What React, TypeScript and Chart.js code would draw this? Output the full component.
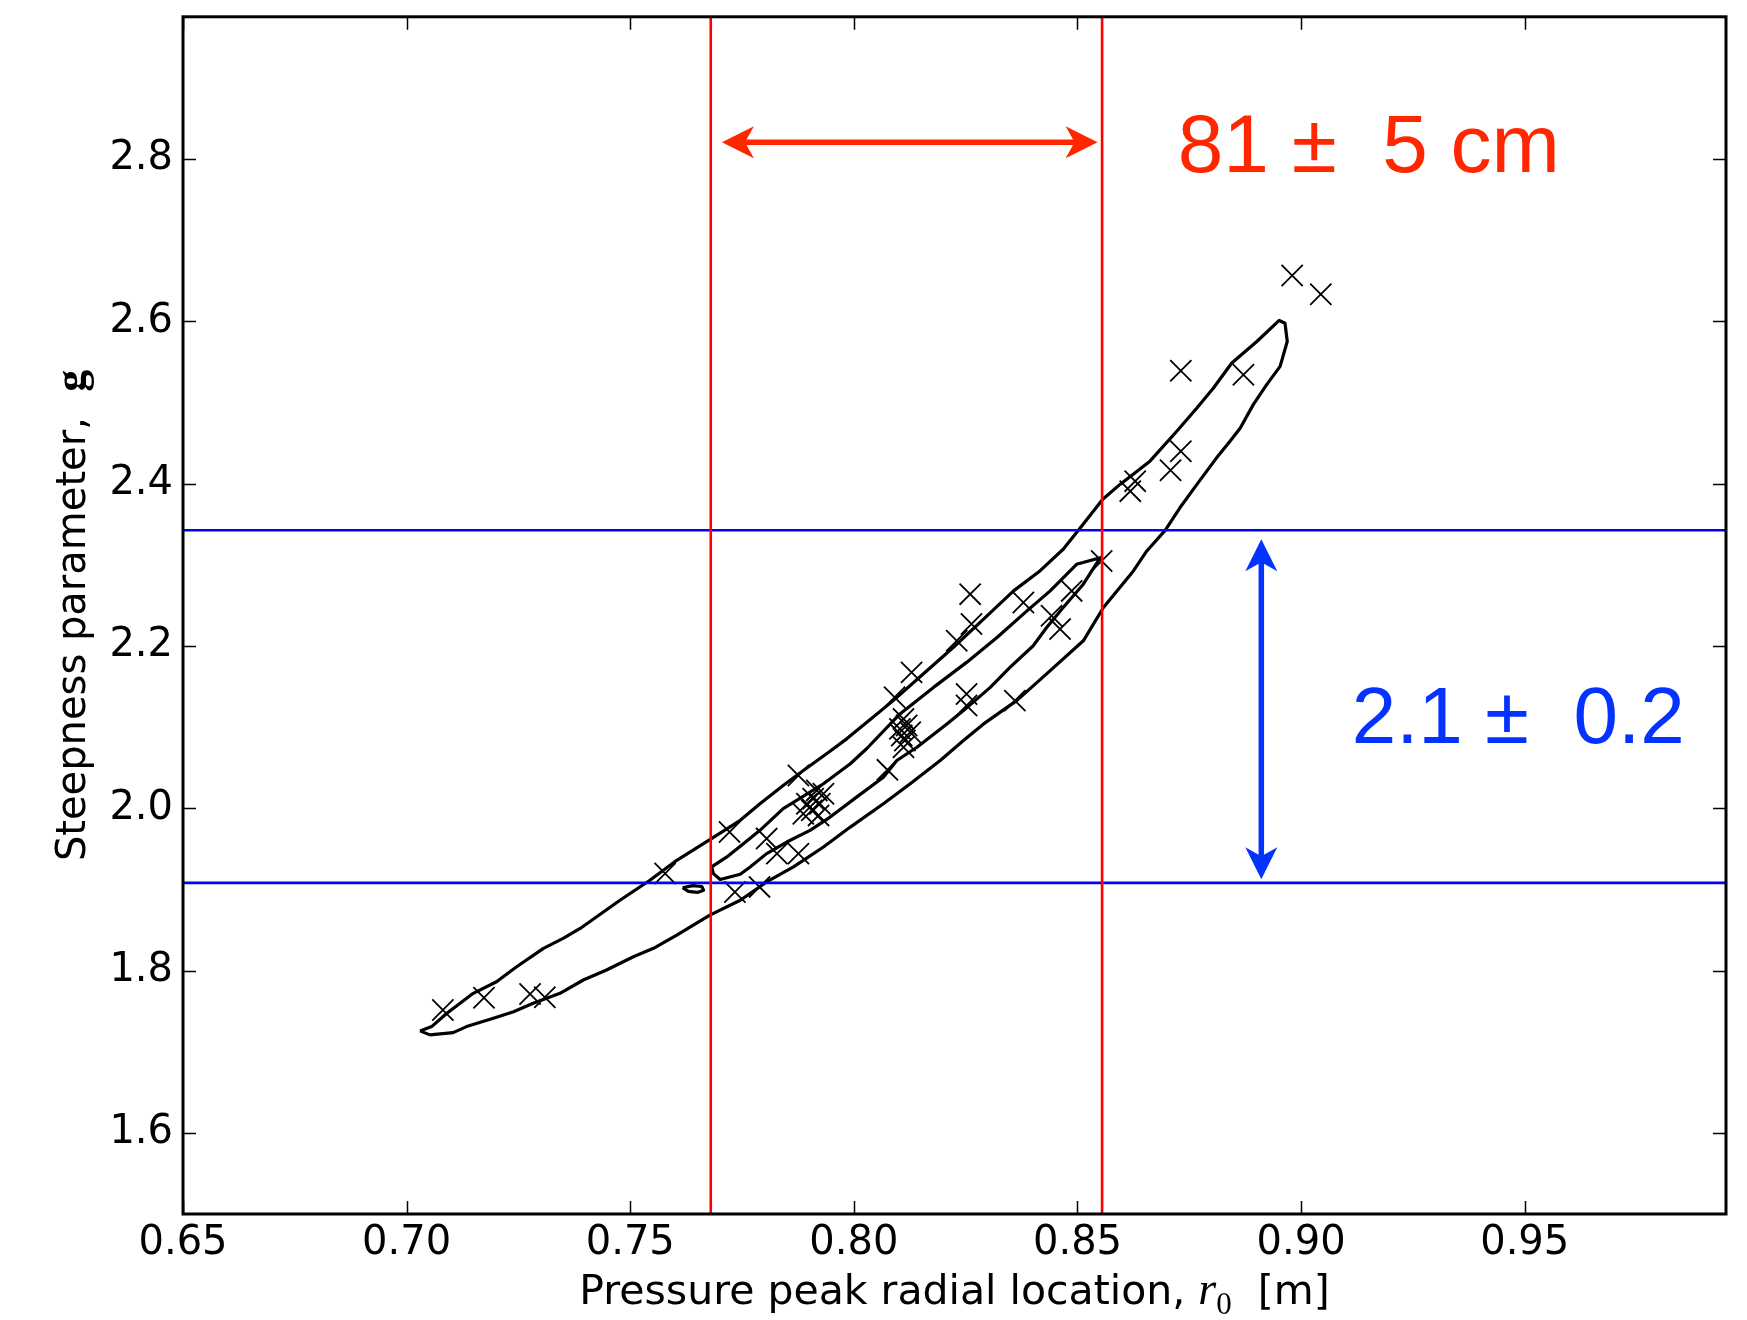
import { useEffect, useRef } from "react";
import { Chart, registerables } from "chart.js";

Chart.register(...registerables);

const W = 1747;
const H = 1320;

// Axis limits and tick values
const rRange = [0.65, 0.995];
const gRange = [1.5, 2.975];
const rTicks = [0.65, 0.7, 0.75, 0.8, 0.85, 0.9, 0.95];
const gTicks = [1.6, 1.8, 2.0, 2.2, 2.4, 2.6, 2.8];

// Individual fit results (r0 [m], g)
const samples: [number, number][] = [
  [0.7081, 1.7514], [0.7173, 1.7665], [0.7276, 1.7711], [0.7309, 1.767],
  [0.7578, 1.9194], [0.7722, 1.9706], [0.7734, 1.8968], [0.7789, 1.903],
  [0.7805, 1.9625], [0.7828, 1.944], [0.7876, 1.944], [0.7876, 2.0403],
  [0.7917, 2.0219], [0.7932, 2.0178], [0.7909, 2.0117], [0.7895, 2.0055],
  [0.7924, 2.0055], [0.7906, 1.9973], [0.7887, 1.9932], [0.7921, 1.9911],
  [0.8075, 2.0472],
  [0.8091, 2.1366], [0.8111, 2.11], [0.8103, 2.0977], [0.8118, 2.1018],
  [0.8107, 2.0894], [0.8114, 2.0833], [0.8126, 2.0935], [0.8111, 2.0751],
  [0.8129, 2.1673],
  [0.826, 2.2637], [0.8263, 2.2268], [0.823, 2.2062],
  [0.8252, 2.1407], [0.8252, 2.1264], [0.836, 2.1325],
  [0.8379, 2.2533], [0.8442, 2.237], [0.8461, 2.2206], [0.8487, 2.2677], [0.8554, 2.3046],
  [0.8618, 2.3906], [0.8629, 2.4029], [0.8708, 2.4164], [0.8731, 2.4398],
  [0.8731, 2.539], [0.8871, 2.5341],
  [0.898, 2.6562], [0.9044, 2.6332],
];

// Confidence contours (closed paths)
const outerContour: [number, number][] = [
  [0.703, 1.7256], [0.7056, 1.7309], [0.709, 1.7473], [0.7149, 1.7719], [0.7201, 1.7862],
  [0.7246, 1.8046], [0.7306, 1.8273], [0.735, 1.8395], [0.7388, 1.8518], [0.7414, 1.862],
  [0.7477, 1.8866], [0.7544, 1.9112], [0.7604, 1.9358], [0.7678, 1.9612], [0.7746, 1.985],
  [0.779, 2.0055], [0.7842, 2.028], [0.7887, 2.0464], [0.7939, 2.067], [0.7984, 2.0854],
  [0.8029, 2.1058], [0.8088, 2.1325], [0.8155, 2.1653], [0.8222, 2.198], [0.829, 2.2329],
  [0.8357, 2.2677], [0.8416, 2.2923], [0.8468, 2.319], [0.8506, 2.3452], [0.8556, 2.3804],
  [0.8595, 2.3989], [0.8662, 2.4275], [0.8722, 2.4644], [0.8767, 2.493], [0.8804, 2.5176],
  [0.8845, 2.5484], [0.8901, 2.575], [0.8951, 2.6009], [0.8964, 2.5975], [0.8969, 2.575],
  [0.8953, 2.5443], [0.8923, 2.5218], [0.8893, 2.4972], [0.8864, 2.4685], [0.8841, 2.4521],
  [0.8811, 2.4316], [0.8767, 2.3989], [0.8729, 2.3701], [0.8696, 2.3423], [0.8655, 2.3169],
  [0.8625, 2.2923], [0.8558, 2.2472], [0.8513, 2.2062], [0.8439, 2.1694], [0.8364, 2.1325],
  [0.829, 2.1038], [0.8245, 2.0833], [0.8193, 2.0587], [0.8126, 2.0301], [0.8066, 2.0055],
  [0.7992, 1.9767], [0.7932, 1.9522], [0.7865, 1.9276], [0.7805, 1.9091], [0.7746, 1.8866],
  [0.7678, 1.8682], [0.7604, 1.8436], [0.7552, 1.8273], [0.7507, 1.8169], [0.7447, 1.8006],
  [0.7395, 1.7883], [0.7343, 1.7719], [0.7283, 1.7596], [0.7239, 1.7493], [0.7194, 1.7412],
  [0.7134, 1.7309], [0.7104, 1.7235], [0.7052, 1.7207], [0.703, 1.7256],
];

const innerContour: [number, number][] = [
  [0.7682, 1.9276], [0.7716, 1.9399], [0.7753, 1.9563], [0.779, 1.9727], [0.7842, 1.9994],
  [0.7872, 2.0096], [0.7932, 2.0301], [0.7992, 2.0547], [0.8029, 2.0735], [0.8103, 2.1161],
  [0.8178, 2.1488], [0.8252, 2.1796], [0.832, 2.2103], [0.8387, 2.2431], [0.8439, 2.2677],
  [0.8498, 2.3005], [0.8551, 2.3086],
  [0.8513, 2.2759], [0.8468, 2.2472], [0.8431, 2.2226], [0.8401, 2.2001], [0.8349, 2.1734],
  [0.8305, 2.1488], [0.8245, 2.1202], [0.8208, 2.1038], [0.8141, 2.0751], [0.8096, 2.0587],
  [0.8066, 2.0382], [0.8006, 2.0136], [0.7947, 1.989], [0.7902, 1.9727], [0.785, 1.9583],
  [0.7805, 1.944], [0.7768, 1.9276], [0.7746, 1.9186], [0.7701, 1.9121], [0.7686, 1.9194],
  [0.7682, 1.9276],
];

const islandContour: [number, number][] = [
  [0.7617, 1.902], [0.764, 1.9045], [0.766, 1.9035], [0.7664, 1.899],
  [0.765, 1.8962], [0.763, 1.8975], [0.7617, 1.902],
];

// Quoted intervals
const rBand = [0.768, 0.8555];
const gBand = [1.908, 2.3425];
const rLabel = "81 \u00b1  5 cm";
const gLabel = "2.1 \u00b1  0.2";

// Annotation anchors in data units
const rArrow = { from: 0.7705, to: 0.8545, g: 2.8204 };
const gArrow = { r: 0.8911, from: 1.9123, to: 2.3314 };
const rLabelAt = { r: 0.8724, g: 2.7834 };
const gLabelAt = { r: 0.9113, g: 2.08 };

const RED_NOTE = "#ff2600";
const BLUE_NOTE = "#0433ff";

const toPoints = (pts: [number, number][]) => pts.map(([r, g]) => ({ x: r, y: g }));

function drawDoubleArrow(ctx: CanvasRenderingContext2D, x1: number, y1: number, x2: number, y2: number, color: string) {
  const headLen = 32;
  const headHalf = 16;
  const notch = 0.72;
  const shaft = 5.5;
  const ang = Math.atan2(y2 - y1, x2 - x1);
  const len = Math.hypot(x2 - x1, y2 - y1);
  ctx.save();
  ctx.translate(x1, y1);
  ctx.rotate(ang);
  ctx.fillStyle = color;
  ctx.fillRect(headLen * notch - 1, -shaft / 2, len - 2 * headLen * notch + 2, shaft);
  ctx.beginPath();
  ctx.moveTo(0, 0);
  ctx.lineTo(headLen, -headHalf);
  ctx.lineTo(headLen * notch, 0);
  ctx.lineTo(headLen, headHalf);
  ctx.closePath();
  ctx.fill();
  ctx.beginPath();
  ctx.moveTo(len, 0);
  ctx.lineTo(len - headLen, -headHalf);
  ctx.lineTo(len - headLen * notch, 0);
  ctx.lineTo(len - headLen, headHalf);
  ctx.closePath();
  ctx.fill();
  ctx.restore();
}

type Piece = { text: string; font: string; dy: number };

function drawPieces(ctx: CanvasRenderingContext2D, pieces: Piece[], cx: number, baseline: number) {
  let total = 0;
  const widths = pieces.map((p) => {
    ctx.font = p.font;
    const w = ctx.measureText(p.text).width;
    total += w;
    return w;
  });
  let x = cx - total / 2;
  ctx.textAlign = "left";
  ctx.textBaseline = "alphabetic";
  pieces.forEach((p, i) => {
    ctx.font = p.font;
    ctx.fillText(p.text, x, baseline + p.dy);
    x += widths[i];
  });
}

const overlayPlugin = {
  id: "overlay",
  afterDraw(chart: any) {
    const { ctx, chartArea: a } = chart;
    const xs = chart.scales.x;
    const ys = chart.scales.y;
    ctx.save();

    // inward ticks on all four sides
    ctx.strokeStyle = "#000";
    ctx.lineWidth = 1.5;
    ctx.beginPath();
    for (const v of rTicks) {
      const p = Math.round(xs.getPixelForValue(v)) + 0.5;
      ctx.moveTo(p, a.bottom);
      ctx.lineTo(p, a.bottom - 13);
      ctx.moveTo(p, a.top);
      ctx.lineTo(p, a.top + 13);
    }
    for (const v of gTicks) {
      const p = Math.round(ys.getPixelForValue(v)) + 0.5;
      ctx.moveTo(a.left, p);
      ctx.lineTo(a.left + 13, p);
      ctx.moveTo(a.right, p);
      ctx.lineTo(a.right - 13, p);
    }
    ctx.stroke();

    // axes frame
    ctx.lineWidth = 3;
    ctx.strokeRect(a.left, a.top, a.right - a.left, a.bottom - a.top);

    // interval arrows
    drawDoubleArrow(
      ctx,
      xs.getPixelForValue(rArrow.from), ys.getPixelForValue(rArrow.g),
      xs.getPixelForValue(rArrow.to), ys.getPixelForValue(rArrow.g),
      RED_NOTE
    );
    drawDoubleArrow(
      ctx,
      xs.getPixelForValue(gArrow.r), ys.getPixelForValue(gArrow.to),
      xs.getPixelForValue(gArrow.r), ys.getPixelForValue(gArrow.from),
      BLUE_NOTE
    );

    // interval labels
    ctx.textAlign = "left";
    ctx.textBaseline = "alphabetic";
    ctx.fillStyle = RED_NOTE;
    ctx.font = "82px 'Liberation Sans'";
    ctx.fillText(rLabel, xs.getPixelForValue(rLabelAt.r), ys.getPixelForValue(rLabelAt.g));
    ctx.fillStyle = BLUE_NOTE;
    ctx.font = "80px 'Liberation Sans'";
    ctx.fillText(gLabel, xs.getPixelForValue(gLabelAt.r), ys.getPixelForValue(gLabelAt.g));

    // axis titles
    ctx.fillStyle = "#000";
    drawPieces(
      ctx,
      [
        { text: "Pressure peak radial location, ", font: "41px 'DejaVu Sans'", dy: 0 },
        { text: "r", font: "italic 46px 'Liberation Serif'", dy: 0 },
        { text: "0", font: "31px 'Liberation Serif'", dy: 10 },
        { text: "  [m]", font: "41px 'DejaVu Sans'", dy: 0 },
      ],
      (a.left + a.right) / 2,
      1304
    );
    ctx.save();
    ctx.translate(85, (a.top + a.bottom) / 2);
    ctx.rotate(-Math.PI / 2);
    drawPieces(
      ctx,
      [
        { text: "Steepness parameter,  ", font: "40px 'DejaVu Sans'", dy: 0 },
        { text: "g", font: "bold 44px 'Liberation Serif'", dy: 0 },
      ],
      0,
      0
    );
    ctx.restore();

    ctx.restore();
  },
};

export default function App() {
  const canvasRef = useRef<HTMLCanvasElement | null>(null);

  useEffect(() => {
    const canvas = canvasRef.current;
    if (!canvas) return;

    const contourStyle = {
      showLine: true,
      borderColor: "#000",
      borderWidth: 3.2,
      pointRadius: 0,
      pointHoverRadius: 0,
      fill: false,
      tension: 0,
      borderJoinStyle: "round" as const,
      order: 3,
    };
    const bandLine = (color: string, pts: { x: number; y: number }[]) => ({
      data: pts,
      showLine: true,
      borderColor: color,
      borderWidth: 2.6,
      pointRadius: 0,
      pointHoverRadius: 0,
      fill: false,
      order: 0,
    });

    const chart = new Chart(canvas, {
      type: "scatter",
      data: {
        datasets: [
          bandLine("#ff0000", [{ x: rBand[0], y: gRange[0] }, { x: rBand[0], y: gRange[1] }]),
          bandLine("#ff0000", [{ x: rBand[1], y: gRange[0] }, { x: rBand[1], y: gRange[1] }]),
          bandLine("#0000ff", [{ x: rRange[0], y: gBand[0] }, { x: rRange[1], y: gBand[0] }]),
          bandLine("#0000ff", [{ x: rRange[0], y: gBand[1] }, { x: rRange[1], y: gBand[1] }]),
          {
            data: toPoints(samples),
            pointStyle: "crossRot",
            pointRadius: 15,
            pointHoverRadius: 15,
            borderColor: "#000",
            backgroundColor: "#000",
            borderWidth: 1.8,
            pointBorderWidth: 1.8,
            showLine: false,
            order: 1,
          },
          { data: toPoints(outerContour), ...contourStyle },
          { data: toPoints(innerContour), ...contourStyle },
          { data: toPoints(islandContour), ...contourStyle },
        ],
      },
      options: {
        responsive: false,
        devicePixelRatio: 1,
        animation: false,
        events: [],
        layout: { padding: { left: 0, top: 15, right: 21, bottom: 0 } },
        plugins: {
          legend: { display: false },
          tooltip: { enabled: false },
          title: { display: false },
        },
        scales: {
          x: {
            type: "linear",
            min: rRange[0],
            max: rRange[1],
            grid: { display: false, drawTicks: false },
            border: { display: false },
            afterBuildTicks: (scale: any) => {
              scale.ticks = rTicks.map((v) => ({ value: v }));
            },
            afterFit: (scale: any) => {
              scale.height = 106;
              scale.paddingLeft = 0;
              scale.paddingRight = 0;
            },
            ticks: {
              autoSkip: false,
              maxRotation: 0,
              padding: 6,
              color: "#000",
              font: { family: "'DejaVu Sans'", size: 40 },
              callback: (v: any) => Number(v).toFixed(2),
            },
          },
          y: {
            type: "linear",
            min: gRange[0],
            max: gRange[1],
            grid: { display: false, drawTicks: false },
            border: { display: false },
            afterBuildTicks: (scale: any) => {
              scale.ticks = gTicks.map((v) => ({ value: v }));
            },
            afterFit: (scale: any) => {
              scale.width = 183;
              scale.paddingTop = 0;
              scale.paddingBottom = 0;
            },
            ticks: {
              autoSkip: false,
              padding: 10,
              color: "#000",
              font: { family: "'DejaVu Sans'", size: 40 },
              callback: (v: any) => Number(v).toFixed(1),
            },
          },
        },
      },
      plugins: [overlayPlugin],
    });

    return () => chart.destroy();
  }, []);

  return (
    <div style={{ position: "fixed", left: 0, top: 0, width: W, height: H, background: "#fff" }}>
      <canvas ref={canvasRef} width={W} height={H} style={{ display: "block", width: W, height: H }} />
    </div>
  );
}
